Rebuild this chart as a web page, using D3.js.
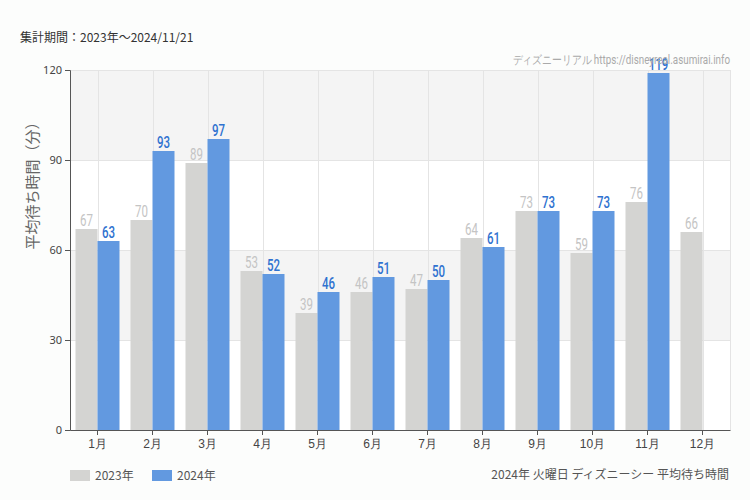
<!DOCTYPE html>
<html>
<head>
<meta charset="utf-8">
<script src="https://cdn.jsdelivr.net/npm/d3@7"></script>
<style>
  body { margin: 0; background: #fcfdfc; font-family: "Noto Sans CJK JP", "Noto Sans", sans-serif; }
  .axis text { fill: #444; }
  .num { font-family: Roboto, "Noto Sans", sans-serif; }
</style>
</head>
<body>
<script>
var months = ["1月","2月","3月","4月","5月","6月","7月","8月","9月","10月","11月","12月"];
var y2023 = [67, 70, 89, 53, 39, 46, 47, 64, 73, 59, 76, 66];
var y2024 = [63, 93, 97, 52, 46, 51, 50, 61, 73, 73, 119, null];
var yTicks = [0, 30, 60, 90, 120];
var seriesNames = ["2023年", "2024年"];

var W = 750, H = 500;
var margin = {top: 70, right: 20, bottom: 70, left: 70};
var width = W - margin.left - margin.right;
var height = H - margin.top - margin.bottom;

var svg = d3.select("body").append("svg")
  .attr("width", W).attr("height", H);

var g = svg.append("g")
  .attr("transform", "translate(" + margin.left + "," + margin.top + ")");

var x = d3.scaleBand().domain(months).range([0, width]);
var y = d3.scaleLinear().domain([0, 120]).range([height, 0]);
var xs = d3.scaleBand().domain([0, 1]).range([0, x.bandwidth()]).paddingOuter(0.25);

// plot background with alternating stripes
g.append("rect").attr("width", width).attr("height", height).attr("fill", "#fff");
for (var i = 0; i < yTicks.length - 1; i++) {
  if (i % 2 == 1) {
    g.append("rect")
      .attr("x", 0).attr("width", width)
      .attr("y", y(yTicks[i + 1]))
      .attr("height", y(yTicks[i]) - y(yTicks[i + 1]))
      .attr("fill", "#f4f4f4");
  }
}
// grid lines
g.selectAll(".hgrid").data(yTicks.slice(1)).enter().append("line")
  .attr("x1", 0).attr("x2", width)
  .attr("y1", function(d) { return y(d) + 0.5; })
  .attr("y2", function(d) { return y(d) + 0.5; })
  .attr("stroke", "#e4e4e4");
g.selectAll(".vgrid").data(months).enter().append("line")
  .attr("y1", 0).attr("y2", height)
  .attr("x1", function(d) { return Math.round(x(d) + x.bandwidth() / 2) + 0.5; })
  .attr("x2", function(d) { return Math.round(x(d) + x.bandwidth() / 2) + 0.5; })
  .attr("stroke", "#e4e4e4");
g.append("line").attr("x1", width + 0.5).attr("x2", width + 0.5)
  .attr("y1", 0).attr("y2", height).attr("stroke", "#e4e4e4");

var colors = ["#d4d4d2", "#6299e0"];
var labelColors = ["#c4c4c4", "#2f72d0"];
var series = [y2023, y2024];

series.forEach(function(vals, s) {
  var pts = vals.map(function(v, i) { return {m: months[i], v: v}; })
    .filter(function(d) { return d.v != null; });
  g.selectAll(".bar" + s).data(pts).enter().append("rect")
    .attr("x", function(d) { return x(d.m) + xs(s); })
    .attr("width", xs.bandwidth())
    .attr("y", function(d) { return y(d.v); })
    .attr("height", function(d) { return height - y(d.v); })
    .attr("fill", colors[s]);
  // condensed look: squeeze the digits horizontally
  g.selectAll(".lab" + s).data(pts).enter().append("g")
    .attr("transform", function(d) {
      return "translate(" + (x(d.m) + xs(s) + xs.bandwidth() / 2) + "," + (y(d.v) - 3) + ") scale(0.72,1)";
    })
    .append("text")
    .attr("class", "num")
    .attr("text-anchor", "middle")
    .attr("font-size", 16)
    .attr("font-weight", s == 1 ? 500 : "normal")
    .attr("fill", labelColors[s])
    .text(function(d) { return d.v; });
});

// axes
var yAxis = g.append("g").attr("class", "axis")
  .call(d3.axisLeft(y).tickValues(yTicks).tickSize(5).tickPadding(3));
yAxis.selectAll("text").attr("font-size", 11).attr("font-family", "Noto Sans, sans-serif");
yAxis.select(".domain").attr("stroke", "#555");
yAxis.selectAll(".tick line").attr("stroke", "#555");

var xAxis = g.append("g").attr("class", "axis")
  .attr("transform", "translate(0," + height + ")")
  .call(d3.axisBottom(x).tickSize(5).tickSizeOuter(0).tickPadding(4));
xAxis.selectAll("text").attr("font-size", 12);
xAxis.select(".domain").attr("stroke", "#555");
xAxis.selectAll(".tick line").attr("stroke", "#555");

// y label
svg.append("text")
  .attr("transform", "translate(38,182) rotate(-90)")
  .attr("text-anchor", "middle")
  .attr("font-size", 15)
  .attr("fill", "#666")
  .text("平均待ち時間（分）");

// title
svg.append("text")
  .attr("x", 20).attr("y", 42)
  .attr("font-size", 12).attr("fill", "#333")
  .text("集計期間：2023年～2024/11/21");

// watermark
svg.append("g").attr("transform", "translate(730,64) scale(0.82,1)")
  .append("text")
  .attr("class", "num")
  .attr("text-anchor", "end")
  .attr("font-size", 12).attr("fill", "#aaa")
  .text("ディズニーリアル https://disneyreal.asumirai.info");

// legend
var leg = svg.append("g").attr("transform", "translate(70,470)");
var legX = [0, 82];
seriesNames.forEach(function(n, i) {
  leg.append("rect").attr("x", legX[i]).attr("y", 0).attr("width", 20).attr("height", 11)
    .attr("fill", colors[i]);
  leg.append("text").attr("x", legX[i] + 25).attr("y", 10)
    .attr("font-size", 12).attr("fill", "#555").text(n);
});

svg.append("text")
  .attr("x", 729).attr("y", 479)
  .attr("text-anchor", "end")
  .attr("font-size", 12).attr("fill", "#555")
  .text("2024年 火曜日 ディズニーシー 平均待ち時間");
</script>
</body>
</html>
